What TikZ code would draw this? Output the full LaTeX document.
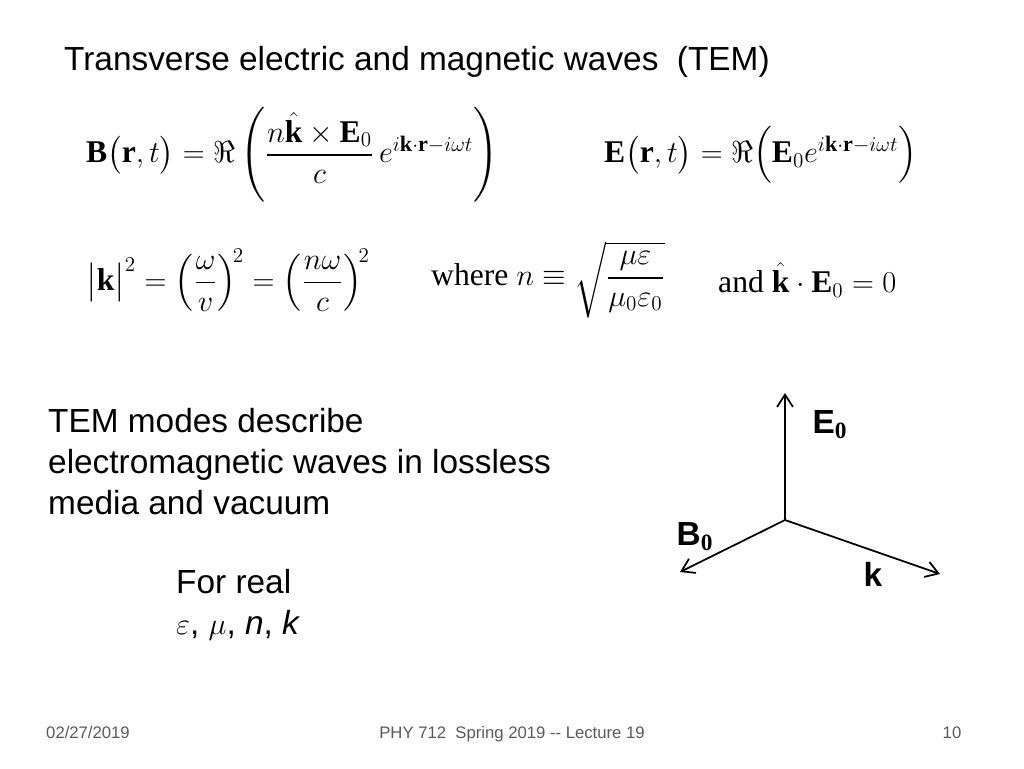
\documentclass[tikz,border=0pt]{standalone}
\usepackage{amsmath,amssymb}
\usepackage{fontspec}
\setmainfont{Liberation Serif}
\setsansfont{Liberation Sans}
\usetikzlibrary{arrows.meta}
\begin{document}
\begin{tikzpicture}[x=0.02cm,y=-0.02cm,
    slidetext/.style={anchor=west, font=\sffamily\fontsize{19}{23.5}\selectfont, align=left},
    eqn/.style={anchor=west, font=\fontsize{18}{21}\selectfont},
    footer/.style={anchor=base, font=\sffamily\fontsize{9.5}{11}\selectfont, text=gray!70!black},
    axis/.style={-{Straight Barb[length=7pt,width=9pt]}, line width=1pt},
    axislabel/.style={font=\sffamily\fontsize{19}{23}\selectfont\bfseries}
]
\useasboundingbox (0,0) rectangle (1024,768);

% Title
\node[slidetext] (title) at (58,62) {Transverse electric and magnetic waves\ \ (TEM)};

% Field equations
\node[eqn] (beq) at (80,155) {$\mathbf{B}\bigl(\mathbf{r},t\bigr)=\Re\left(\dfrac{n\hat{\mathbf{k}}\times\mathbf{E}_0}{c}\,e^{i\mathbf{k}\cdot\mathbf{r}-i\omega t}\right)$};
\node[eqn] (eeq) at (598,155) {$\mathbf{E}\bigl(\mathbf{r},t\bigr)=\Re\Bigl(\mathbf{E}_0e^{i\mathbf{k}\cdot\mathbf{r}-i\omega t}\Bigr)$};

% Dispersion relation
\node[eqn] (keq) at (80,280) {$\bigl|\mathbf{k}\bigr|^2=\left(\dfrac{\omega}{v}\right)^{\!2}=\left(\dfrac{n\omega}{c}\right)^{\!2}$};
\node[eqn] (neq) at (425,280) {where $n\equiv\sqrt{\dfrac{\mu\varepsilon}{\mu_0\varepsilon_0}}$};
\node[eqn] (dot) at (712,280) {and $\hat{\mathbf{k}}\cdot\mathbf{E}_0=0$};

% Description
\node[slidetext, anchor=north west] (desc) at (42,402) {TEM modes describe\\electromagnetic waves in lossless\\media and vacuum};
\node[slidetext, anchor=north west] (real) at (170,563) {For real\\$\varepsilon$, $\mu$, \textit{n}, \textit{k}};

% Axes
\coordinate (origin) at (785,520);
\coordinate (etip) at (785,393);
\coordinate (btip) at (680,572);
\coordinate (ktip) at (940,574);
\draw[axis] (origin) -- (etip);
\draw[axis] (origin) -- (btip);
\draw[axis] (origin) -- (ktip);
\node[axislabel] (elabel) at (830,425) {E$_\mathbf{0}$};
\node[axislabel] (blabel) at (695,537) {B$_\mathbf{0}$};
\node[axislabel] (klabel) at (873,574) {k};

% Footer
\node[footer] (date) at (88,738) {02/27/2019};
\node[footer] (course) at (512,738) {PHY 712\ \ Spring 2019 -{}- Lecture 19};
\node[footer] (page) at (952,738) {10};
\end{tikzpicture}
\end{document}
